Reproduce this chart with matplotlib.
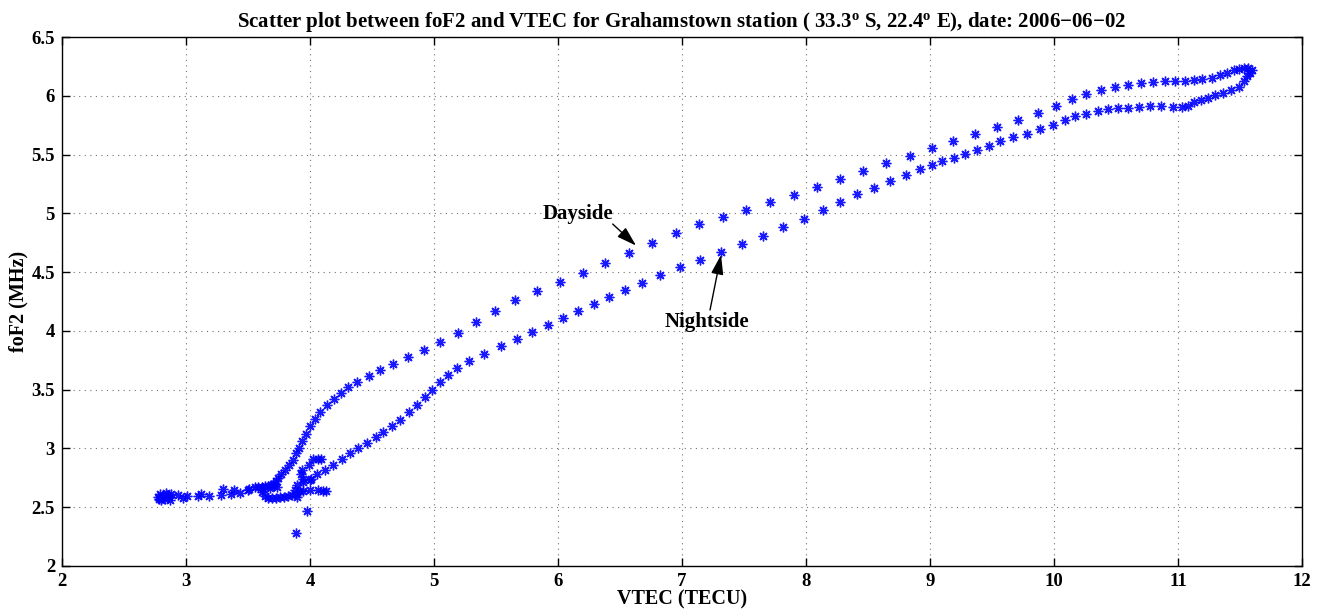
import matplotlib
matplotlib.use("Agg")
import matplotlib.pyplot as plt
import numpy as np

# Rising ("Dayside") branch: VTEC (TECU), foF2 (MHz)
day_vtec = [3.704, 3.726, 3.740, 3.766, 3.801, 3.833, 3.861, 3.885, 3.911, 3.938,
            3.970, 4.000, 4.040, 4.083, 4.140, 4.194, 4.248, 4.309, 4.377, 4.476,
            4.565, 4.672, 4.790, 4.919, 5.048, 5.194, 5.339, 5.489, 5.651, 5.831,
            6.014, 6.199, 6.382, 6.573, 6.760, 6.949, 7.137, 7.328, 7.519, 7.710,
            7.901, 8.089, 8.272, 8.460, 8.648, 8.836, 9.014, 9.185, 9.360, 9.543,
            9.710, 9.869, 10.014, 10.143, 10.258, 10.377, 10.490, 10.597, 10.699, 10.796,
            10.893, 10.978, 11.059, 11.129, 11.196, 11.272, 11.341, 11.398, 11.452, 11.494,
            11.532, 11.567, 11.594]
day_fof2 = [2.695, 2.720, 2.752, 2.783, 2.820, 2.859, 2.905, 2.957, 3.008, 3.064,
            3.127, 3.187, 3.249, 3.309, 3.368, 3.422, 3.473, 3.524, 3.567, 3.618,
            3.669, 3.720, 3.775, 3.835, 3.903, 3.985, 4.073, 4.167, 4.261, 4.338,
            4.414, 4.491, 4.576, 4.664, 4.749, 4.835, 4.909, 4.971, 5.031, 5.093,
            5.159, 5.227, 5.295, 5.363, 5.429, 5.491, 5.557, 5.616, 5.676, 5.732,
            5.792, 5.855, 5.915, 5.969, 6.014, 6.051, 6.073, 6.090, 6.105, 6.113,
            6.122, 6.124, 6.124, 6.130, 6.139, 6.153, 6.176, 6.196, 6.216, 6.227,
            6.233, 6.235, 6.218]

# Decaying ("Nightside") branch
night_vtec = [11.581, 11.559, 11.535, 11.492, 11.427, 11.365, 11.301, 11.239, 11.183, 11.129,
              11.081, 11.035, 10.957, 10.865, 10.777, 10.685, 10.599, 10.514, 10.433, 10.352,
              10.258, 10.172, 10.086, 9.994, 9.887, 9.780, 9.667, 9.565, 9.473, 9.382,
              9.282, 9.191, 9.099, 9.014, 8.917, 8.804, 8.680, 8.548, 8.411, 8.274,
              8.137, 7.981, 7.817, 7.651, 7.486, 7.317, 7.148, 6.984, 6.823, 6.677,
              6.543, 6.414, 6.288, 6.164, 6.038, 5.917, 5.793, 5.669, 5.540, 5.406,
              5.282, 5.183, 5.110, 5.046, 4.986, 4.925, 4.860, 4.796, 4.728, 4.661,
              4.591, 4.530, 4.460, 4.387, 4.323, 4.260, 4.188, 4.123, 4.059, 4.006,
              3.946, 3.893]
night_fof2 = [6.196, 6.167, 6.122, 6.077, 6.045, 6.026, 6.003, 5.980, 5.960, 5.943,
              5.915, 5.903, 5.906, 5.909, 5.909, 5.903, 5.900, 5.898, 5.886, 5.872,
              5.849, 5.824, 5.792, 5.753, 5.715, 5.676, 5.650, 5.616, 5.576, 5.540,
              5.502, 5.474, 5.446, 5.414, 5.374, 5.327, 5.278, 5.218, 5.161, 5.093,
              5.025, 4.954, 4.880, 4.809, 4.738, 4.673, 4.607, 4.542, 4.477, 4.411,
              4.349, 4.286, 4.229, 4.172, 4.113, 4.050, 3.988, 3.928, 3.871, 3.806,
              3.746, 3.686, 3.627, 3.562, 3.499, 3.436, 3.368, 3.309, 3.246, 3.192,
              3.141, 3.095, 3.050, 3.008, 2.959, 2.908, 2.863, 2.820, 2.780, 2.743,
              2.712, 2.686]

# Low-value night-time cluster
low_vtec = [3.613, 3.637, 3.661, 3.694, 3.726, 3.758, 3.790, 3.823, 3.855, 3.887,
            3.895, 3.919, 3.556, 3.581, 3.610, 3.637, 3.664, 3.685, 3.710, 3.734,
            3.621, 3.677, 3.508, 3.498, 3.435, 3.390, 3.363, 3.301, 3.282, 3.188,
            3.121, 3.099, 3.010, 2.978, 2.933, 2.774, 2.790, 2.798, 2.815, 2.831,
            2.847, 2.863, 2.871, 2.782, 2.839, 2.879, 4.024, 4.065, 4.089, 3.992,
            3.933, 3.925, 3.944, 4.000, 3.879, 3.944, 4.000, 4.067, 4.107, 4.129,
            3.973, 3.885]
low_fof2 = [2.627, 2.593, 2.580, 2.575, 2.580, 2.584, 2.588, 2.597, 2.601, 2.610,
            2.584, 2.635, 2.669, 2.673, 2.675, 2.678, 2.684, 2.686, 2.678, 2.669,
            2.652, 2.661, 2.658, 2.644, 2.624, 2.644, 2.616, 2.658, 2.601, 2.595,
            2.610, 2.592, 2.595, 2.581, 2.601, 2.584, 2.610, 2.558, 2.593, 2.567,
            2.601, 2.584, 2.558, 2.567, 2.618, 2.610, 2.908, 2.908, 2.912, 2.863,
            2.814, 2.786, 2.742, 2.729, 2.644, 2.638, 2.650, 2.644, 2.638, 2.635,
            2.465, 2.280]

x_ticks = [2, 3, 4, 5, 6, 7, 8, 9, 10, 11, 12]
y_ticks = [2, 2.5, 3, 3.5, 4, 4.5, 5, 5.5, 6, 6.5]

plt.rcParams['font.family'] = ['Liberation Serif', 'DejaVu Serif']
plt.rcParams['font.weight'] = 'bold'
plt.rcParams['mathtext.fontset'] = 'custom'
plt.rcParams['mathtext.rm'] = 'Liberation Serif:bold'
plt.rcParams['mathtext.it'] = 'Liberation Serif:bold'
plt.rcParams['mathtext.bf'] = 'Liberation Serif:bold'

fig = plt.figure(figsize=(13.25, 6.1), dpi=100)
ax = fig.add_axes([62/1325, 44/610, 1240/1325, 529/610])

vtec = np.concatenate([day_vtec, night_vtec, low_vtec])
fof2 = np.concatenate([day_fof2, night_fof2, low_fof2])
ax.plot(vtec, fof2, linestyle='none', marker=(8, 2, 0), markersize=7,
        markeredgewidth=1.0, color='#0000ff', markeredgecolor='#0000ff', alpha=0.9)

ax.set_xlim(2, 12)
ax.set_ylim(2, 6.5)
ax.set_xticks(x_ticks)
ax.set_yticks(y_ticks)
ax.set_xticklabels([f"{t:g}" for t in x_ticks])
ax.set_yticklabels([f"{t:g}" for t in y_ticks])
ax.tick_params(direction='in', top=True, right=True, length=6, width=1,
               labelsize=13.5, pad=5)
for lab in ax.get_xticklabels() + ax.get_yticklabels():
    lab.set_fontweight('bold')
ax.grid(True, linestyle=(0, (1, 4)), color='0.45', linewidth=0.8)
for s in ax.spines.values():
    s.set_linewidth(1.0)

ax.set_title(r"Scatter plot between foF2 and VTEC for Grahamstown station ( 33.3$^{\rm o}$ S, 22.4$^{\rm o}$ E), date: 2006$-$06$-$02",
             fontsize=15, fontweight='bold', pad=7)
ax.set_xlabel("VTEC (TECU)", fontsize=14.5, fontweight='bold', labelpad=0)
ax.set_ylabel("foF2 (MHz)", fontsize=14.5, fontweight='bold', labelpad=2)

ax.text(6.161, 4.997, "Dayside", fontsize=15, fontweight='bold',
        ha='center', va='center')
ax.annotate("", xy=(6.629, 4.726), xytext=(6.441, 4.909),
            arrowprops=dict(arrowstyle='-|>,head_length=0.8,head_width=0.25',
                            color='black', lw=1.0, mutation_scale=15,
                            shrinkA=0, shrinkB=0))
ax.text(7.199, 4.076, "Nightside", fontsize=15, fontweight='bold',
        ha='center', va='center')
ax.annotate("", xy=(7.315, 4.647), xytext=(7.226, 4.178),
            arrowprops=dict(arrowstyle='-|>,head_length=0.8,head_width=0.25',
                            color='black', lw=1.0, mutation_scale=15,
                            shrinkA=0, shrinkB=0))

fig.savefig("out.png", dpi=100)
